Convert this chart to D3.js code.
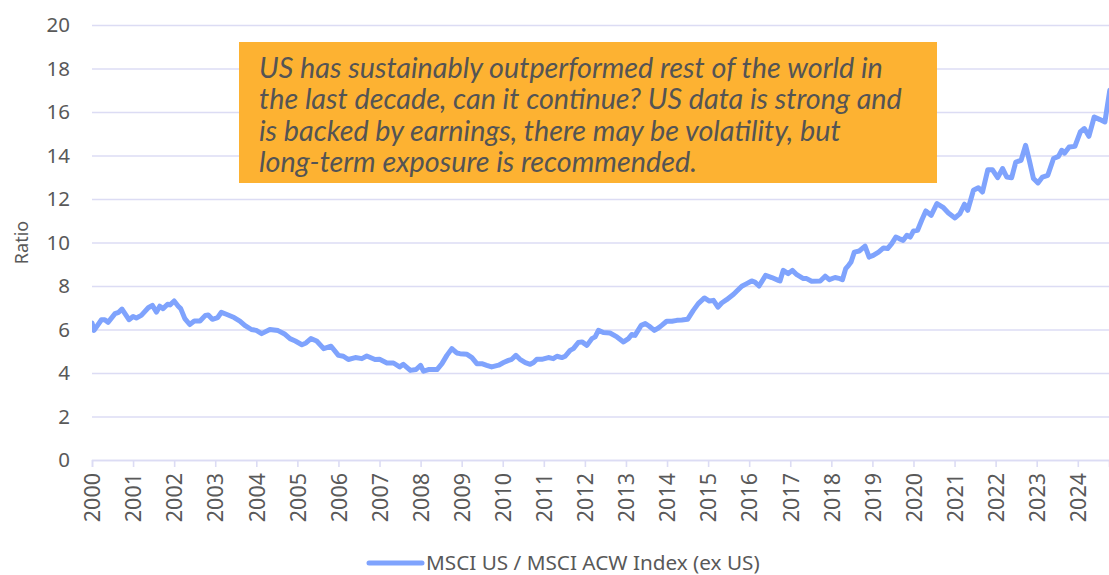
<!DOCTYPE html>
<html lang="en">
<head>
  <meta charset="UTF-8">
  <title>MSCI US / MSCI ACW Index (ex US)</title>
  <script src="https://d3js.org/d3.v7.min.js"></script>
  <style>
    body { margin: 0; background: #fff; }
    svg { display: block; }
  </style>
</head>
<body>
  <svg id="chart" width="1109" height="575"></svg>

  <script>
    // decimal year / ratio
    const years = [
      2000.00, 2000.05, 2000.23, 2000.31, 2000.39, 2000.56, 2000.65, 2000.73, 2000.90,
      2001.00, 2001.08, 2001.20, 2001.37, 2001.47, 2001.57, 2001.65, 2001.73, 2001.84, 2001.90,
      2002.00, 2002.10, 2002.16, 2002.26, 2002.38, 2002.49, 2002.63, 2002.76, 2002.83, 2002.93,
      2003.06, 2003.15, 2003.27, 2003.46, 2003.60, 2003.72, 2003.88,
      2004.00, 2004.13, 2004.33, 2004.53, 2004.70, 2004.82, 2004.95,
      2005.11, 2005.21, 2005.33, 2005.47, 2005.64, 2005.82,
      2006.00, 2006.12, 2006.24, 2006.41, 2006.57, 2006.69, 2006.89,
      2007.00, 2007.18, 2007.34, 2007.49, 2007.58, 2007.75, 2007.89,
      2008.00, 2008.07, 2008.19, 2008.40, 2008.52, 2008.64, 2008.76, 2008.88, 2008.96,
      2009.13, 2009.25, 2009.37, 2009.49, 2009.61, 2009.73, 2009.90,
      2010.02, 2010.14, 2010.22, 2010.32, 2010.42, 2010.55, 2010.67, 2010.75, 2010.83, 2010.95,
      2011.11, 2011.23, 2011.32, 2011.44, 2011.52, 2011.64, 2011.72, 2011.84, 2011.93,
      2012.05, 2012.17, 2012.25, 2012.33, 2012.45, 2012.61, 2012.78, 2012.94,
      2013.06, 2013.14, 2013.22, 2013.37, 2013.47, 2013.56, 2013.69, 2013.79, 2013.87, 2013.99,
      2014.12, 2014.24, 2014.36, 2014.50, 2014.64, 2014.76, 2014.91,
      2015.03, 2015.13, 2015.24, 2015.33, 2015.45, 2015.62, 2015.70, 2015.82, 2015.94,
      2016.06, 2016.14, 2016.24, 2016.40, 2016.55, 2016.71, 2016.75, 2016.83, 2016.95,
      2017.05, 2017.16, 2017.32, 2017.40, 2017.52, 2017.73, 2017.85, 2017.95,
      2018.09, 2018.21, 2018.27, 2018.35, 2018.42, 2018.48, 2018.56, 2018.68, 2018.82, 2018.92,
      2019.02, 2019.15, 2019.27, 2019.37, 2019.47, 2019.57, 2019.65, 2019.75, 2019.84, 2019.92,
      2020.00, 2020.10, 2020.20, 2020.30, 2020.43, 2020.57, 2020.73, 2020.85,
      2021.01, 2021.13, 2021.24, 2021.32, 2021.46, 2021.58, 2021.68, 2021.81, 2021.92,
      2022.05, 2022.17, 2022.27, 2022.39, 2022.49, 2022.62, 2022.73, 2022.82, 2022.92,
      2023.03, 2023.14, 2023.27, 2023.41, 2023.53, 2023.61, 2023.68, 2023.79, 2023.93,
      2024.06, 2024.16, 2024.27, 2024.40, 2024.54, 2024.66, 2024.78
    ];
    const ratio = [
      6.30, 5.96, 6.45, 6.45, 6.33, 6.73, 6.79, 6.94, 6.45,
      6.60, 6.53, 6.65, 7.00, 7.11, 6.80, 7.07, 6.96, 7.16, 7.13,
      7.31, 7.07, 6.96, 6.50, 6.23, 6.39, 6.39, 6.65, 6.67, 6.47,
      6.55, 6.79, 6.70, 6.55, 6.39, 6.19, 6.00,
      5.96, 5.81, 6.00, 5.95, 5.78, 5.58, 5.47,
      5.30, 5.38, 5.58, 5.47, 5.12, 5.23,
      4.81, 4.77, 4.62, 4.71, 4.66, 4.78, 4.62,
      4.63, 4.46, 4.46, 4.28, 4.40, 4.12, 4.16,
      4.35, 4.08, 4.16, 4.16, 4.43, 4.81, 5.12, 4.92, 4.89,
      4.86, 4.71, 4.43, 4.43, 4.35, 4.28, 4.36,
      4.48, 4.58, 4.63, 4.81, 4.63, 4.48, 4.40, 4.48, 4.63, 4.63,
      4.71, 4.66, 4.77, 4.71, 4.77, 5.04, 5.12, 5.40, 5.43,
      5.27, 5.58, 5.66, 5.96, 5.86, 5.84, 5.66, 5.43,
      5.58, 5.77, 5.73, 6.19, 6.27, 6.16, 5.96, 6.07, 6.19, 6.38,
      6.38, 6.42, 6.44, 6.47, 6.88, 7.19, 7.45,
      7.31, 7.34, 7.03, 7.22, 7.37, 7.62, 7.77, 7.99, 8.11,
      8.23, 8.18, 8.00, 8.49, 8.39, 8.26, 8.23, 8.72, 8.57,
      8.72, 8.52, 8.34, 8.34, 8.22, 8.23, 8.45, 8.29,
      8.39, 8.34, 8.29, 8.80, 8.95, 9.10, 9.56, 9.61, 9.83, 9.33,
      9.41, 9.56, 9.75, 9.72, 9.95, 10.25, 10.18, 10.10, 10.33, 10.25,
      10.53, 10.56, 11.02, 11.45, 11.25, 11.79, 11.60, 11.36,
      11.13, 11.33, 11.76, 11.48, 12.40, 12.52, 12.32, 13.35, 13.35,
      12.98, 13.40, 13.01, 12.98, 13.70, 13.78, 14.47, 13.78, 12.94,
      12.74, 13.01, 13.09, 13.86, 13.96, 14.24, 14.11, 14.39, 14.42,
      15.08, 15.24, 14.88, 15.77, 15.65, 15.54, 17.00
    ];
    const yearTicks = d3.range(2000, 2025);
    const ratioTicks = d3.range(0, 21, 2);
    const seriesName = "MSCI US / MSCI ACW Index (ex US)";
    const note = [
      "US has sustainably outperformed rest of the world in",
      "the last decade, can it continue? US data is strong and",
      "is backed by earnings, there may be volatility, but",
      "long-term exposure is recommended."
    ];

    const font = '"Noto Sans", sans-serif';
    const svg = d3.select("#chart").attr("font-family", font);
    const margin = { top: 25, right: 0, bottom: 115, left: 92 };
    const width = +svg.attr("width");
    const height = +svg.attr("height");
    const innerW = width - margin.left - margin.right;
    const innerH = height - margin.top - margin.bottom;

    const x = d3.scaleLinear().domain([2000, 2024.76]).range([0, innerW]);
    const y = d3.scaleLinear().domain([0, 20]).range([innerH, 0]);

    const grid = "#dcdcf4";
    const textCol = "#595959";
    const lineCol = "#7fa3fd";

    const g = svg.append("g").attr("transform", `translate(${margin.left},${margin.top})`);

    // horizontal grid + y labels
    const yAxis = g.append("g")
      .call(d3.axisLeft(y).tickValues(ratioTicks).tickSize(-innerW).tickPadding(22))
      .attr("font-family", font)
      .call(s => s.select(".domain").remove());
    yAxis.selectAll(".tick line").attr("stroke", grid).attr("stroke-width", 1.6);
    yAxis.selectAll(".tick text").attr("fill", textCol).attr("font-size", 20.5);

    // x axis
    const xAxis = g.append("g")
      .attr("transform", `translate(0,${innerH})`)
      .call(d3.axisBottom(x).tickValues(yearTicks).tickFormat(d3.format("d")).tickSize(7))
      .attr("font-family", font);
    xAxis.select(".domain").attr("stroke", grid).attr("stroke-width", 1.6);
    xAxis.selectAll(".tick line").attr("stroke", grid).attr("stroke-width", 1.6);
    xAxis.selectAll(".tick text")
      .attr("fill", textCol)
      .attr("font-size", 21.5)
      .attr("transform", "rotate(-90)")
      .attr("text-anchor", "end")
      .attr("x", -13)
      .attr("y", 0)
      .attr("dy", "0.36em");

    // the series
    const points = years.map((t, i) => [t, ratio[i]]);
    svg.append("clipPath").attr("id", "plot")
      .append("rect").attr("x", 0).attr("y", -10).attr("width", innerW).attr("height", innerH + 20);
    g.append("path")
      .datum(points)
      .attr("clip-path", "url(#plot)")
      .attr("fill", "none")
      .attr("stroke", lineCol)
      .attr("stroke-width", 5)
      .attr("stroke-linejoin", "round")
      .attr("stroke-linecap", "round")
      .attr("d", d3.line().x(d => x(d[0])).y(d => y(d[1])));

    // y title
    svg.append("text")
      .attr("transform", `translate(22,${margin.top + innerH / 2}) rotate(-90)`)
      .attr("text-anchor", "middle")
      .attr("dy", "0.35em")
      .attr("fill", textCol)
      .attr("font-size", 18)
      .text("Ratio");

    // annotation box
    const box = svg.append("g");
    box.append("rect")
      .attr("x", 239).attr("y", 42).attr("width", 698).attr("height", 141)
      .attr("fill", "#fdb232");
    const noteText = box.append("text")
      .attr("font-family", "Lato, sans-serif")
      .attr("font-style", "italic")
      .attr("font-size", 24)
      .attr("fill", "#545454");
    noteText.selectAll("tspan")
      .data(note)
      .join("tspan")
      .attr("x", 259)
      .attr("y", (d, i) => 78 + i * 31.3)
      .text(d => d);
    // fit first line to the width seen in the reference
    const w0 = noteText.select("tspan").node().getComputedTextLength();
    noteText.attr("font-size", 24 * 624 / w0);

    // legend
    const leg = svg.append("g").attr("transform", "translate(369,563)");
    leg.append("line")
      .attr("x1", 0).attr("x2", 53)
      .attr("stroke", lineCol).attr("stroke-width", 5).attr("stroke-linecap", "round");
    const legText = leg.append("text")
      .attr("x", 57).attr("dy", "0.35em")
      .attr("fill", textCol)
      .attr("font-size", 20)
      .text(seriesName);
    const wl = legText.node().getComputedTextLength();
    legText.attr("font-size", 20 * 334 / wl);
  </script>
</body>
</html>
